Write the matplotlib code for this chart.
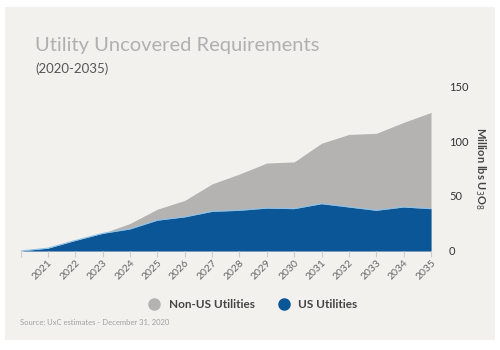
import matplotlib
matplotlib.use('Agg')
import matplotlib.pyplot as plt
from matplotlib.lines import Line2D
from matplotlib.patches import Rectangle

years = list(range(2020, 2036))
us_utilities = [0, 2.5, 9.5, 16, 20, 28, 31, 36, 37, 39, 38.5, 43, 40, 37, 40, 38.5]
total_req = [0, 2.5, 10, 16, 25, 38, 46, 61, 70, 80, 81, 98, 106, 107, 117, 126]
non_us_utilities = [t - u for t, u in zip(total_req, us_utilities)]

bg = '#f2f1ee'
blue = '#0b5697'
grey = '#b4b3b1'

plt.rcParams['font.family'] = ['Lato', 'DejaVu Sans']

fig = plt.figure(figsize=(5, 3.5), dpi=100)
fig.patch.set_facecolor('white')
fig.patches.append(Rectangle((0.01, 0.029), 0.98, 0.951, transform=fig.transFigure,
                             facecolor=bg, edgecolor='none', zorder=-1))

ax = fig.add_axes([0.041, 0.283, 0.821, 0.471])
ax.set_zorder(2)
ax.set_facecolor('none')
ax.fill_between(years, 0, [u + n for u, n in zip(us_utilities, non_us_utilities)],
                color=grey, linewidth=0)
ax.fill_between(years, 0, us_utilities, color=blue, linewidth=0)
ax.plot(years, us_utilities, color='#8cc3ea', linewidth=0.8)

ax.set_xlim(2020, 2035)
ax.set_ylim(0, 150)
for s in ax.spines.values():
    s.set_visible(False)

ax.yaxis.tick_right()
ax.set_yticks([0, 50, 100, 150])
ax.tick_params(axis='y', length=0, pad=13, labelsize=8, labelcolor='#333333')
ax.set_xticks(years)
ax.set_xticklabels([''] + [str(y) for y in years[1:]])
ax.tick_params(axis='x', length=4, color='#cccccc', labelsize=7.5, labelcolor='#666666', pad=1)
for lab in ax.get_xticklabels():
    lab.set_rotation(45)
    lab.set_ha('right')
    lab.set_rotation_mode('anchor')

ax.yaxis.set_label_position('right')
ax.set_ylabel('Million lbs U$_3$O$_8$', rotation=270, fontsize=8, fontweight='bold',
              color='#444444', labelpad=14)

fig.text(0.07, 0.871, 'Utility Uncovered Requirements', fontsize=14.5, color='#b0b0b0', va='center')
fig.text(0.07, 0.805, '(2020-2035)', fontsize=9.5, color='#555555', va='center')

handles = [Line2D([], [], marker='o', linestyle='none', markersize=8, color=grey),
           Line2D([], [], marker='o', linestyle='none', markersize=8, color=blue)]
leg = fig.legend(handles, ['Non-US Utilities', 'US Utilities'], loc='center',
                 bbox_to_anchor=(0.5, 0.131), ncol=2, frameon=False, handletextpad=0.2,
                 columnspacing=1.5, prop={'weight': 'bold', 'size': 8.5})
for t in leg.get_texts():
    t.set_color('#444444')

fig.text(0.04, 0.08, 'Source: UxC estimates - December 31, 2020', fontsize=5.5, color='#a0a0a0',
         va='center')

fig.savefig('out.png', dpi=100, facecolor='white')
